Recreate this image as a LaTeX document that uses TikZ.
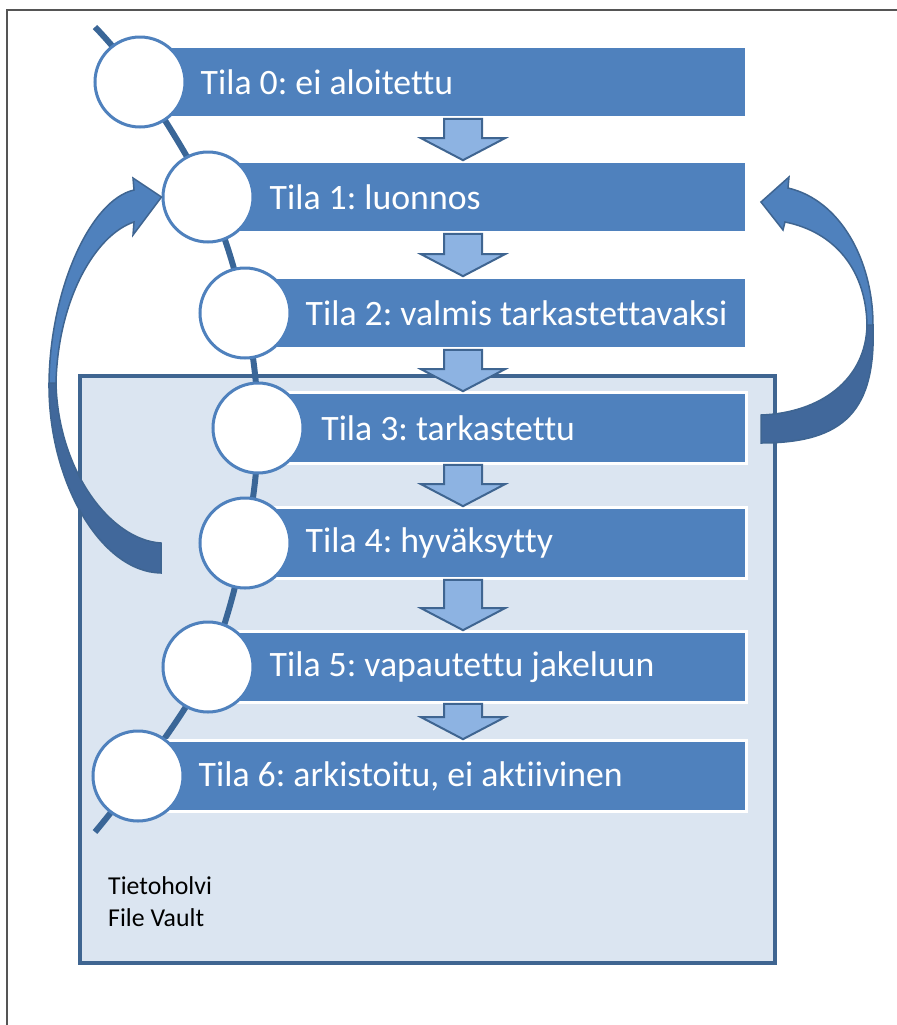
\documentclass[tikz,border=0pt]{standalone}
\usepackage{fontspec}
\setmainfont{Carlito}[Ligatures=CommonOff]
\usetikzlibrary{positioning,calc}
\frenchspacing

\definecolor{barblue}{HTML}{4F81BD}
\definecolor{darkblue}{HTML}{3F6591}
\definecolor{spineblue}{HTML}{3A6697}
\definecolor{vaultfill}{HTML}{DBE5F1}
\definecolor{stepfill}{HTML}{8DB3E2}
\definecolor{backblue}{HTML}{41689B}
\definecolor{framegray}{HTML}{555555}

% block arrow between two bars, at the x of (ax)
\newcommand\downstep[2]{%
  \draw[flow arrow] ($(#1.south -| ax)+(-19,0)$) -- ($(#2.north -| ax)+(-19,-22)$)
    -- ($(#2.north -| ax)+(-42,-22)$) -- (#2.north -| ax) -- ($(#2.north -| ax)+(42,-22)$)
    -- ($(#2.north -| ax)+(19,-22)$) -- ($(#1.south -| ax)+(19,0)$) -- cycle;}

\begin{document}
\begin{tikzpicture}[x=0.03cm, y=-0.03cm,
    state node/.style={circle, draw=barblue, line width=0.09cm, fill=white, minimum size=2.7cm, inner sep=0},
    bar node/.style={rectangle, fill=barblue, draw=white, line width=0.08cm, minimum height=2.13cm, anchor=west, inner sep=0},
    bar text/.style={text=white, font=\fontsize{30.5}{36}\selectfont, inner sep=0},
    flow arrow/.style={fill=stepfill, draw=darkblue, line width=0.06cm},
    curve front/.style={fill=barblue, draw=darkblue, line width=0.045cm},
    curve back/.style={fill=backblue, draw=darkblue, line width=0.045cm},
    spine/.style={draw=spineblue, line width=0.18cm}]

    \useasboundingbox (0,0) rectangle (897,1025);
    \draw[framegray, line width=0.06cm] (7,1025) -- (7,10) -- (897,10);

    % vault
    \node[rectangle, draw=darkblue, fill=vaultfill, line width=0.1cm, minimum width=20.85cm, minimum height=17.61cm, inner sep=0] (vault) at (427.5,669.5) {};
    \node[anchor=north west, align=left, inner sep=0, font=\fontsize{22}{28}\selectfont] (vaultname) at (108,876) {Tietoholvi\\File Vault};

    \coordinate (p0) at (140,82);
    \coordinate (p1) at (208,197);
    \coordinate (p2) at (245,313);
    \coordinate (p3) at (258,428);
    \coordinate (p4) at (245,543);
    \coordinate (p5) at (208,667);
    \coordinate (p6) at (138,776);
    \coordinate (top) at (95,27);
    \coordinate (bottom) at (95,832);
    \coordinate (ax) at (463,0);

    \draw[spine] plot[smooth, tension=0.6] coordinates {(top) (p0) (p1) (p2) (p3) (p4) (p5) (p6) (bottom)};

    \node[bar node, minimum width=18.15cm] (b0) at (p0) {};
    \node[bar node, minimum width=16.11cm] (b1) at (p1) {};
    \node[bar node, minimum width=15cm] (b2) at (p2) {};
    \node[bar node, minimum width=14.61cm] (b3) at (p3) {};
    \node[bar node, minimum width=15cm] (b4) at (p4) {};
    \node[bar node, minimum width=16.11cm] (b5) at (p5) {};
    \node[bar node, minimum width=18.21cm] (b6) at (p6) {};

    \node[state node] (c0) at (p0) {};
    \node[state node] (c1) at (p1) {};
    \node[state node] (c2) at (p2) {};
    \node[state node] (c3) at (p3) {};
    \node[state node] (c4) at (p4) {};
    \node[state node] (c5) at (p5) {};
    \node[state node] (c6) at (p6) {};

    \node[bar text, right=0.42cm of c0.east] (t0) {Tila 0: ei aloitettu};
    \node[bar text, right=0.45cm of c1.east] (t1) {Tila 1: luonnos};
    \node[bar text, right=0.42cm of c2.east] (t2) {Tila 2: valmis tarkastettavaksi};
    \node[bar text, right=0.5cm of c3.east] (t3) {Tila 3: tarkastettu};
    \node[bar text, right=0.42cm of c4.east] (t4) {Tila 4: hyväksytty};
    \node[bar text, right=0.45cm of c5.east] (t5) {Tila 5: vapautettu jakeluun};
    \node[bar text, right=0.42cm of c6.east] (t6) {Tila 6: arkistoitu, ei aktiivinen};

    \downstep{b0}{b1}
    \downstep{b1}{b2}
    \downstep{b2}{b3}
    \downstep{b3}{b4}
    \downstep{b4}{b5}
    \downstep{b5}{b6}

    % back from 4 to 1
    \filldraw[curve back] (49,383) .. controls (48,480) and (100,572) .. (161,573) -- (161,543)
        .. controls (110,540) and (58,470) .. (56,383) -- cycle;
    \filldraw[curve front] (c1.west) -- (133,178) -- (134,190) .. controls (90,200) and (50,290) .. (49,383)
        -- (56,383) .. controls (58,300) and (95,235) .. (134,222) -- (133,235) -- cycle;

    % back from 3 to 1
    \filldraw[curve back] (873,325) .. controls (876,410) and (845,443) .. (761,443) -- (761,415)
        .. controls (820,413) and (866,380) .. (867,325) -- cycle;
    \filldraw[curve front] (761,202) -- (789,177) -- (788,188) .. controls (840,200) and (873,260) .. (873,325)
        -- (867,325) .. controls (866,270) and (835,232) .. (785,222) -- (783,230) -- cycle;

\end{tikzpicture}
\end{document}
